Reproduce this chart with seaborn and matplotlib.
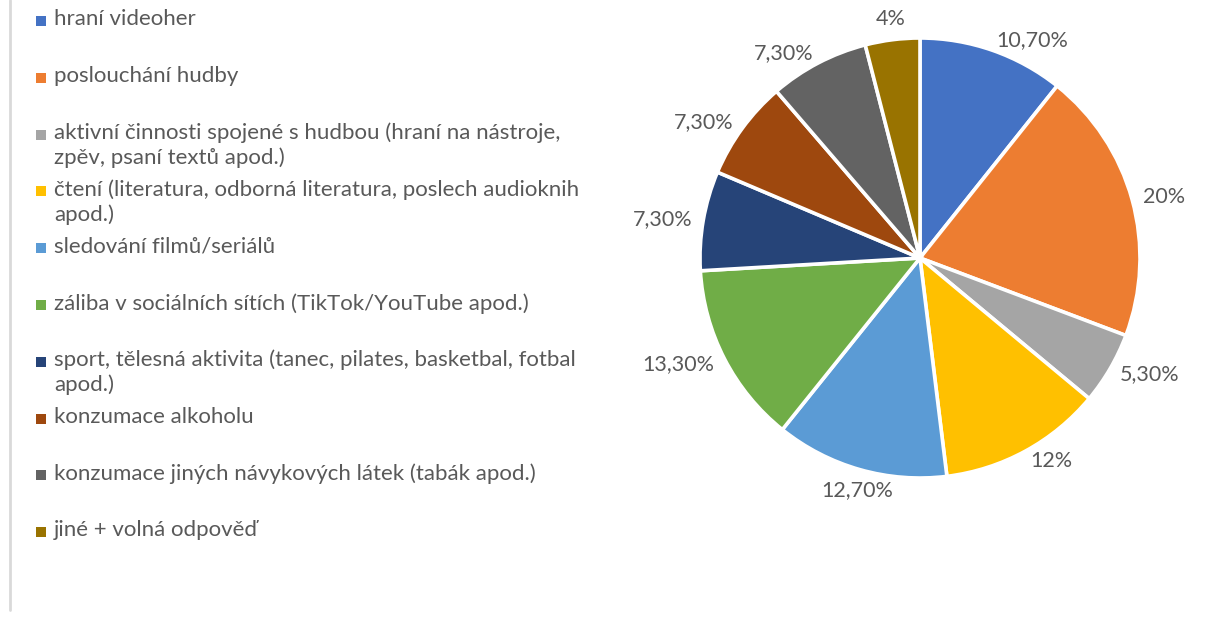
import numpy as np
import matplotlib
matplotlib.use("Agg")
import matplotlib.pyplot as plt
import seaborn as sns

categories = [
    "hraní videoher",
    "poslouchání hudby",
    "aktivní činnosti spojené s hudbou (hraní na nástroje,\nzpěv, psaní textů apod.)",
    "čtení (literatura, odborná literatura, poslech audioknih\napod.)",
    "sledování filmů/seriálů",
    "záliba v sociálních sítích (TikTok/YouTube apod.)",
    "sport, tělesná aktivita (tanec, pilates, basketbal, fotbal\napod.)",
    "konzumace alkoholu",
    "konzumace jiných návykových látek (tabák apod.)",
    "jiné + volná odpověď",
]
values = [10.7, 20, 5.3, 12, 12.7, 13.3, 7.3, 7.3, 7.3, 4]
colors = ["#4472C4", "#ED7D31", "#A5A5A5", "#FFC000", "#5B9BD5",
          "#70AD47", "#264478", "#9E480E", "#636363", "#997300"]


def fmt(v):
    if float(v).is_integer():
        return f"{int(v)}%"
    return f"{v:.2f}".replace(".", ",") + "%"


value_labels = [fmt(v) for v in values]

sns.set_theme(style="white")
plt.rcParams["font.family"] = ["Lato", "DejaVu Sans"]
palette = sns.color_palette(colors)

W, H = 1215, 617
fig = plt.figure(figsize=(W / 100, H / 100), dpi=100)
fig.patch.set_facecolor("white")

text_color = "#595959"

# pie axes
cx, cy, R = 920, 258, 220
ax = fig.add_axes([(cx - R) / W, (H - (cy + R)) / H, 2 * R / W, 2 * R / H])
wedges, texts = ax.pie(
    values, labels=value_labels, colors=palette, startangle=90, counterclock=False,
    labeldistance=1.05,
    wedgeprops=dict(edgecolor="white", linewidth=2.6),
    textprops=dict(fontsize=15.5, color=text_color),
)
for w, t in zip(wedges, texts):
    ang = np.deg2rad((w.theta1 + w.theta2) / 2)
    if abs(np.cos(ang)) < 0.3:
        t.set_ha("center")
        t.set_va("bottom" if np.sin(ang) > 0 else "top")
ax.set_xlim(-1, 1)
ax.set_ylim(-1, 1)
ax.set_aspect("equal")
ax.axis("off")

# legend / frame overlay in pixel coordinates
lax = fig.add_axes([0, 0, 1, 1], zorder=-1)
lax.set_xlim(0, W)
lax.set_ylim(H, 0)
lax.axis("off")
lax.plot([10, 10], [0, 610], color="#D9D9D9", lw=2)

y0, step = 21, 56.8
for i, (cat, col) in enumerate(zip(categories, palette)):
    y = y0 + i * step
    lax.scatter([41], [y], marker="s", s=55, color=col, linewidths=0)
    lax.text(54, y - 12, cat, fontsize=16, color=text_color, va="top", ha="left",
             linespacing=1.27)

fig.savefig("out.png", dpi=100)
